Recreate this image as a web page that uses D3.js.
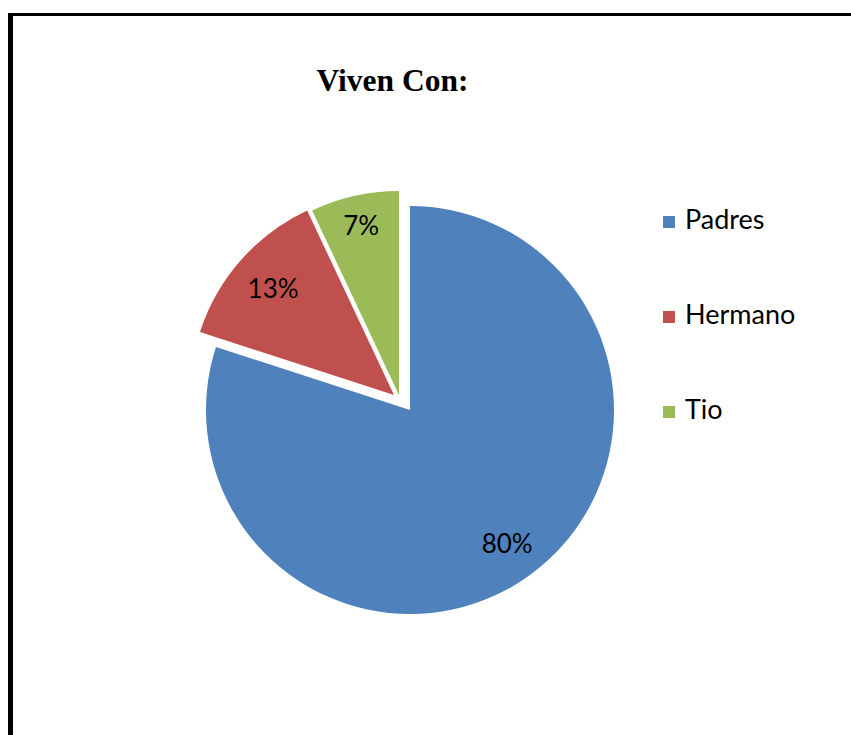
<!DOCTYPE html>
<html>
<head>
<meta charset="utf-8">
<script src="https://cdn.jsdelivr.net/npm/d3@7"></script>
<style>
  html, body { margin: 0; padding: 0; background: #fff; }
  svg { display: block; }
</style>
</head>
<body>
<svg id="chart" width="851" height="735"></svg>
<script>
// ---- data ----
const categories = ["Padres", "Hermano", "Tio"];
const values = [80, 13, 7];
const labels = ["80%", "13%", "7%"];
const title = "Viven Con:";

// ---- layout / style ----
const colors = ["#4F81BD", "#C0504D", "#9BBB59"];
const pieCenter = { x: 410, y: 410 };
const radius = 204;
// explosion offsets (px) for each slice relative to the pie centre
const explode = [[0, 0], [-16, -15], [-11, -15]];
const labelRatio = [0.81, 0.79, 0.85];

const svg = d3.select("#chart");

// frame (left and top edges visible)
svg.append("line").attr("x1", 10.5).attr("x2", 10.5).attr("y1", 13).attr("y2", 735)
  .attr("stroke", "#000").attr("stroke-width", 5);
svg.append("line").attr("x1", 8).attr("x2", 851).attr("y1", 14.5).attr("y2", 14.5)
  .attr("stroke", "#000").attr("stroke-width", 3);

// title
svg.append("text")
  .attr("x", 392.5).attr("y", 91)
  .attr("text-anchor", "middle")
  .attr("font-family", "'Liberation Serif', 'Times New Roman', serif")
  .attr("font-weight", "bold")
  .attr("font-size", 31.5)
  .attr("fill", "#000")
  .text(title);

const data = categories.map((c, i) => ({ name: c, value: values[i], label: labels[i], i }));
const pie = d3.pie().value(d => d.value).sort(null);
const arcs = pie(data);
const arc = d3.arc().innerRadius(0).outerRadius(radius);

const g = svg.append("g").attr("transform", `translate(${pieCenter.x},${pieCenter.y})`);

const slice = g.selectAll("g.slice").data(arcs).enter().append("g")
  .attr("class", "slice")
  .attr("transform", d => `translate(${explode[d.data.i][0]},${explode[d.data.i][1]})`);

slice.append("path")
  .attr("d", arc)
  .attr("fill", d => colors[d.data.i]);

slice.append("text")
  .attr("transform", d => {
    const a = (d.startAngle + d.endAngle) / 2;
    const r = radius * labelRatio[d.data.i];
    return `translate(${Math.sin(a) * r},${-Math.cos(a) * r})`;
  })
  .attr("text-anchor", "middle")
  .attr("dy", "0.36em")
  .attr("font-family", "Lato, 'Open Sans', sans-serif")
  .attr("font-size", 26)
  .attr("fill", "#000")
  .text(d => d.data.label);

// legend
const legend = svg.append("g").attr("transform", "translate(663,0)");
const legendY = d3.scalePoint().domain(categories).range([229, 419]);
const item = legend.selectAll("g.item").data(data).enter().append("g")
  .attr("class", "item")
  .attr("transform", d => `translate(0,${legendY(d.name)})`);
item.append("rect")
  .attr("x", 0).attr("y", -13).attr("width", 12).attr("height", 12)
  .attr("fill", d => colors[d.i]);
item.append("text")
  .attr("x", 22).attr("y", 0)
  .attr("font-family", "Lato, 'Open Sans', sans-serif")
  .attr("font-size", 27)
  .attr("fill", "#000")
  .text(d => d.name);
</script>
</body>
</html>
